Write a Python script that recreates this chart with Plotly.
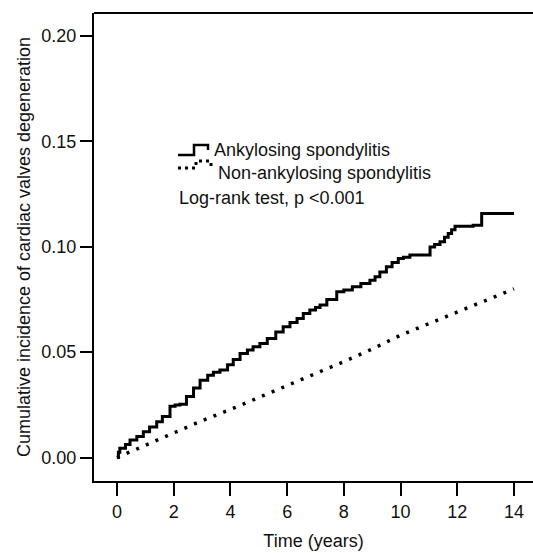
import plotly.graph_objects as go

# Ankylosing spondylitis (solid step curve)
as_time = [0, 0.05, 0.1, 0.3, 0.46, 0.7, 0.93, 1.15, 1.4, 1.6,
           1.87, 2.05, 2.22, 2.45, 2.7, 2.93, 3.2, 3.4, 3.63, 3.9,
           4.1, 4.34, 4.6, 4.8, 5.04, 5.3, 5.6, 5.86, 6.1, 6.35,
           6.57, 6.8, 7.0, 7.16, 7.4, 7.75, 8.0, 8.3, 8.6, 8.92,
           9.1, 9.27, 9.5, 9.7, 9.92, 10.1, 10.33, 11.04, 11.2, 11.39,
           11.55, 11.68, 11.8, 11.92, 12.56, 12.86, 14.0]
as_cuminc = [0, 0.0025, 0.0044, 0.0062, 0.0083, 0.0100, 0.0122, 0.0145, 0.0170, 0.0195,
             0.0244, 0.0249, 0.0253, 0.0290, 0.0330, 0.0367, 0.0390, 0.0405, 0.0415, 0.0440,
             0.0465, 0.0494, 0.0510, 0.0525, 0.0541, 0.0565, 0.0595, 0.0620, 0.0640, 0.0660,
             0.0683, 0.0700, 0.0712, 0.0723, 0.0750, 0.0786, 0.0795, 0.0810, 0.0825, 0.0841,
             0.0858, 0.0880, 0.0905, 0.0925, 0.0944, 0.0950, 0.0960, 0.0999, 0.1010, 0.1023,
             0.1045, 0.1063, 0.1080, 0.1097, 0.1102, 0.1157, 0.1157]

# Non-ankylosing spondylitis (dotted curve)
non_time = [0, 1, 2, 3, 4, 5, 6, 7, 8, 9, 10, 11, 12, 13, 14]
non_cuminc = [0, 0.0058, 0.0115, 0.0175, 0.0228, 0.0285, 0.034, 0.0395,
              0.0455, 0.0515, 0.058, 0.0635, 0.069, 0.0745, 0.080]

x_ticks = [0, 2, 4, 6, 8, 10, 12, 14]
y_ticks = [0.00, 0.05, 0.10, 0.15, 0.20]
y_tick_text = ["0.00", "0.05", "0.10", "0.15", "0.20"]

legend_labels = ["Ankylosing spondylitis", "Non-ankylosing spondylitis"]
test_text = "Log-rank test, p <0.001"
x_title = "Time (years)"
y_title = "Cumulative incidence of cardiac valves degeneration"

W, H = 533, 553
ML, MR, MT, MB = 94, 0, 13, 72
PW, PH = W - ML - MR, H - MT - MB

def px(x):
    return (x - ML) / PW

def py(y):
    return (H - MB - y) / PH

FONT = "Liberation Sans, Arial, sans-serif"
INK = "#111111"
DOT = "3px,7.5px"

fig = go.Figure()
fig.add_trace(go.Scatter(x=as_time, y=as_cuminc, mode="lines",
                         line=dict(color="black", width=3, shape="hv"),
                         name=legend_labels[0], showlegend=False, hoverinfo="skip"))
fig.add_trace(go.Scatter(x=non_time, y=non_cuminc, mode="lines",
                         line=dict(color="black", width=3.5, dash=DOT),
                         name=legend_labels[1], showlegend=False, hoverinfo="skip"))

shapes = [
    # top frame line
    dict(type="line", xref="paper", yref="paper", x0=0, x1=1, y0=1, y1=1,
         line=dict(color="black", width=2)),
    # legend icon: solid step
    dict(type="path", xref="paper", yref="paper",
         path=f"M {px(178)},{py(155)} L {px(194)},{py(155)} L {px(194)},{py(145)} "
              f"L {px(208)},{py(145)} L {px(208)},{py(150)}",
         line=dict(color="black", width=2.5)),
    # legend icon: dotted step
    dict(type="path", xref="paper", yref="paper",
         path=f"M {px(178)},{py(168)} L {px(196)},{py(168)} L {px(196)},{py(161)} "
              f"L {px(211)},{py(161)} L {px(211)},{py(167)}",
         line=dict(color="black", width=3, dash="3px,4px")),
]

annotations = [
    dict(text=legend_labels[0], x=px(212), y=py(150)),
    dict(text=legend_labels[1], x=px(216), y=py(173)),
    dict(text=test_text, x=px(177), y=py(198)),
]
annotations = [dict(a, xref="paper", yref="paper", xanchor="left", yanchor="middle",
                    showarrow=False, font=dict(family=FONT, size=18, color=INK))
               for a in annotations]

fig.update_layout(
    width=W, height=H,
    margin=dict(l=ML, r=MR, t=MT, b=MB, pad=0, autoexpand=False),
    paper_bgcolor="white", plot_bgcolor="white",
    font=dict(family=FONT, size=18, color=INK),
    shapes=shapes, annotations=annotations,
    showlegend=False, hovermode=False,
)
fig.update_xaxes(
    automargin=False,
    range=[-0.81, 14.67], tickvals=x_ticks, ticktext=[str(v) for v in x_ticks],
    showgrid=False, zeroline=False, showline=True, linecolor="black", linewidth=2,
    ticks="outside", ticklen=13, tickwidth=2, tickcolor="black",
    tickfont=dict(family=FONT, size=18, color=INK),
    title=dict(text=x_title, font=dict(family=FONT, size=18, color=INK), standoff=14),
)
fig.update_yaxes(
    automargin=False,
    range=[-0.0111, 0.2108], tickvals=y_ticks, ticktext=y_tick_text,
    showgrid=False, zeroline=False, showline=True, linecolor="black", linewidth=2,
    ticks="outside", ticklen=12, tickwidth=2, tickcolor="black",
    tickfont=dict(family=FONT, size=18, color=INK),
    title=dict(text=y_title, font=dict(family=FONT, size=18, color=INK), standoff=6),
)

page_style = ("document.body.style.margin='0';"
              "document.body.style.overflow='hidden';"
              "document.documentElement.style.overflow='hidden';")
fig.write_html("out.html", post_script=page_style,
               config=dict(displayModeBar=False, staticPlot=True))
